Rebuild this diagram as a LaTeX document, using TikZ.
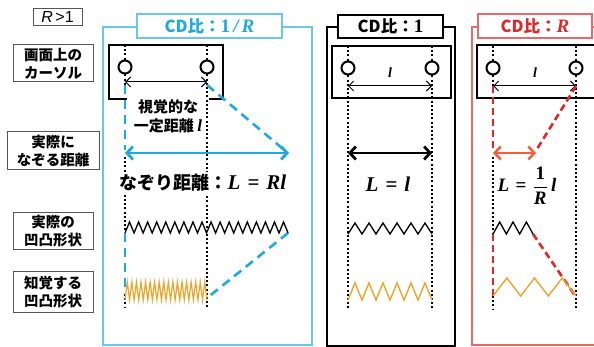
\documentclass[tikz,border=0pt]{standalone}
\usepackage{amsmath}
\usepackage{fontspec}
\newfontfamily\jp{Noto Sans CJK JP}
\newfontfamily\mf{Liberation Serif}
\setsansfont{Liberation Sans}
\usetikzlibrary{arrows.meta}
\newcommand{\mbi}[1]{{\mf\bfseries\itshape #1}}
\newcommand{\mbu}[1]{{\mf\bfseries #1}}
\newcommand{\tmath}{\fontsize{19}{19}\selectfont}
\definecolor{cblue}{HTML}{1FA9E1}
\definecolor{cbluebd}{HTML}{6EC6E6}
\definecolor{cred}{HTML}{E02828}
\definecolor{credbd}{HTML}{E66A6A}
\definecolor{corange}{HTML}{ECA52A}
\definecolor{carrowred}{HTML}{F0603C}
\definecolor{cgray}{HTML}{555555}
\tikzset{
 lbl/.style={draw=cgray, line width=1pt, fill=white, align=center,
   font=\jp\bfseries\fontsize{14.5}{18}\selectfont, inner sep=0pt},
 dots/.style={line width=2pt, dash pattern=on 2pt off 2.2pt, black},
 cur/.style={circle, draw=black, line width=2pt, fill=white, minimum size=13pt, inner sep=0pt},
 thinarrow/.style={line width=1pt, {Straight Barb[length=5pt,width=10pt]}-{Straight Barb[length=5pt,width=10pt]}},
 bigarrow/.style={line width=2.8pt, {Straight Barb[length=6pt,width=13pt]}-{Straight Barb[length=6pt,width=13pt]}},
 bdash/.style={line width=2.6pt, dash pattern=on 9pt off 6pt, cblue},
 rdash/.style={line width=2.6pt, dash pattern=on 7pt off 4pt, cred},
 zz/.style={line width=1.3pt, line join=miter, miter limit=20},
 ttl/.style={draw, line width=1.3pt, fill=white, inner sep=0pt,
   font=\jp\bfseries\fontsize{16.5}{18}\selectfont},
 curbox/.style={draw=black, line width=1.2pt},
 mth/.style={font=\fontsize{21}{24}\selectfont, inner sep=1pt},
 small/.style={font=\fontsize{14}{14}\selectfont, inner sep=0pt},
}
\begin{document}
\begin{tikzpicture}[x=1pt,y=-1pt]
\clip (0,0) rectangle (594,347);
\fill[white] (0,0) rectangle (594,347);

% ---------- left labels ----------
\node[draw=cgray, line width=1pt, font=\sffamily\fontsize{16}{17}\selectfont, inner sep=0pt,
  minimum width=49pt, minimum height=17pt] (rg) at (57.5,17) {\textit{R}\,>1};
\node[lbl, minimum width=80pt, minimum height=37pt] (lab1) at (53,63.5) {画面上の\\カーソル};
\node[lbl, minimum width=92pt, minimum height=38pt] (lab2) at (53,151) {実際に\\なぞる距離};
\node[lbl, minimum width=80pt, minimum height=37pt] (lab3) at (53,231.5) {実際の\\凹凸形状};
\node[lbl, minimum width=80pt, minimum height=40pt] (lab4) at (53,292) {知覚する\\凹凸形状};

% ---------- blue panel ----------
\draw[cbluebd, line width=1.5pt] (103,27) rectangle (312,345);
\node[ttl, draw=cbluebd, text=cblue, minimum width=145pt, minimum height=24pt] (t1) at (209.5,26)
  {CD比：{\tmath\mbu{1}\,\mbi{/\,R}}};
\draw[curbox] (109,45) rectangle (223,99);
\node[fill=white, align=center, font=\jp\bfseries\fontsize{15}{19}\selectfont, inner sep=1pt,
  minimum width=82pt] (vis) at (168,116) {視覚的な\\一定距離 {\fontsize{17}{17}\selectfont\mbi{l}}};
\path (125,45) coordinate (bl0) (125,85) coordinate (bl1) (125,150) coordinate (bl2)
      (125,157) coordinate (bl3) (125,233) coordinate (bl4) (125,288) coordinate (bl5)
      (125,294) coordinate (bl6) (125,308) coordinate (bl7)
      (207,45) coordinate (br0) (207,308) coordinate (br1);
\draw[dots] (bl0) -- (bl1);
\draw[dots] (bl3) -- (bl4);
\draw[dots] (bl6) -- (bl7);
\draw[dots] (br0) -- (br1);
\node[cur] (bc1) at (125,67) {};
\node[cur] (bc2) at (207,67) {};
\path (125,82) coordinate (ba0) (207,82) coordinate (ba1);
\draw[thinarrow] (ba0) -- (ba1);
\path (207,85) coordinate (bd0) (283,149) coordinate (bd1);
\draw[bdash] (bl1) -- (bl2);
\draw[bdash] (bd0) -- (bd1);
\path (125,153) coordinate (bb0) (289,153) coordinate (bb1);
\draw[bigarrow, cblue] (bb0) -- (bb1);
\node[fill=white, inner sep=2pt, font=\jp\bfseries\fontsize{18}{20}\selectfont] (nz) at (203,183)
  {なぞり距離：{\fontsize{21}{21}\selectfont\mbi{L}\,\,\mbu{=}\,\,\mbi{Rl}}};
% zigzags
\path (288,233) coordinate (bz1) (207,298) coordinate (bo1);
\draw[bdash] (bl4) -- (bl5);
\draw[bdash] (bz1) -- (bo1);
\draw[zz] (bl4) \foreach \i in {1,...,18}{ -- ++(4.53,-11) -- ++(4.53,11)};
\path (125,300) coordinate (bo0);
\draw[zz, corange, line width=1.2pt] (bo0) \foreach \i in {1,...,18}{ -- ++(2.28,-18) -- ++(2.28,18)};

% ---------- middle panel ----------
\draw[black, line width=1.2pt] (327,27) rectangle (455,346);
\node[ttl, draw=black, minimum width=105pt, minimum height=23pt] (t2) at (390.5,26.5)
  {CD比：{\tmath\mbu{1}}};
\draw[curbox] (332,46) rectangle (451,98);
\path (348,46) coordinate (ml0) (348,310) coordinate (ml1)
      (432,46) coordinate (mr0) (432,310) coordinate (mr1);
\draw[dots] (ml0) -- (ml1);
\draw[dots] (mr0) -- (mr1);
\node[cur] (mc1) at (348,68) {};
\node[cur] (mc2) at (432,68) {};
\node[small] (ml) at (390,73) {\mbi{l}};
\path (348,86) coordinate (ma0) (432,86) coordinate (ma1);
\draw[thinarrow] (ma0) -- (ma1);
\path (348,153) coordinate (mb0) (432,153) coordinate (mb1);
\draw[bigarrow, black] (mb0) -- (mb1);
\node[mth] (meq) at (388,184) {\mbi{L}\,\,\mbu{=}\,\,\mbi{l}};
\path (348,234) coordinate (mz0) (348,300) coordinate (mo0);
\draw[zz] (mz0) \foreach \i in {1,...,6}{ -- ++(7,-11) -- ++(7,11)};
\draw[zz, corange, line width=1.4pt] (mo0) \foreach \i in {1,...,6}{ -- ++(7,-17) -- ++(7,17)};

% ---------- red panel ----------
\draw[credbd, line width=1.3pt] (472,27) rectangle (640,345);
\node[ttl, draw=credbd, text=cred, minimum width=114pt, minimum height=24pt] (t3) at (535,26)
  {CD比：{\tmath\mbi{R}}};
\draw[curbox] (477,45) rectangle (640,98);
\path (493,46) coordinate (rl0) (493,86) coordinate (rl1) (493,152) coordinate (rl2)
      (493,157) coordinate (rl3) (493,234) coordinate (rl4) (493,296) coordinate (rl5)
      (493,310) coordinate (rl6)
      (576,46) coordinate (rr0) (576,310) coordinate (rr1);
\draw[dots] (rl0) -- (rl1);
\draw[dots] (rl3) -- (rl4);
\draw[dots] (rl5) -- (rl6);
\draw[dots] (rr0) -- (rr1);
\node[cur] (rc1) at (493,68) {};
\node[cur] (rc2) at (576,68) {};
\fill (rc2.center) circle (1.1pt);
\node[small] (rlab) at (535,73) {\mbi{l}};
\path (576,86) coordinate (ra1) (537,149) coordinate (rd1);
\draw[thinarrow] (rl1) -- (ra1);
\draw[rdash] (rl1) -- (rl2);
\draw[rdash] (ra1) -- (rd1);
\path (493,153) coordinate (rb0) (536,153) coordinate (rb1);
\draw[bigarrow, carrowred, line width=2.5pt] (rb0) -- (rb1);
\node[mth, font=\fontsize{19}{22}\selectfont] (req) at (527,186)
  {\mbi{L}\,\,\mbu{=}\,\,$\genfrac{}{}{1.4pt}{0}{\text{\mbu{1}}}{\text{\mbi{R}}}$\,\mbi{l}};
\path (533,234) coordinate (rz1) (576,297) coordinate (ro1);
\draw[rdash] (rl4) -- (rl5);
\draw[rdash] (rz1) -- (ro1);
\draw[zz] (rl4) \foreach \i in {1,...,3}{ -- ++(6.67,-12) -- ++(6.67,12)};
\draw[zz, corange, line width=1.4pt] (rl5) \foreach \i in {1,...,3}{ -- ++(13.83,-18) -- ++(13.83,18)};
\end{tikzpicture}
\end{document}
